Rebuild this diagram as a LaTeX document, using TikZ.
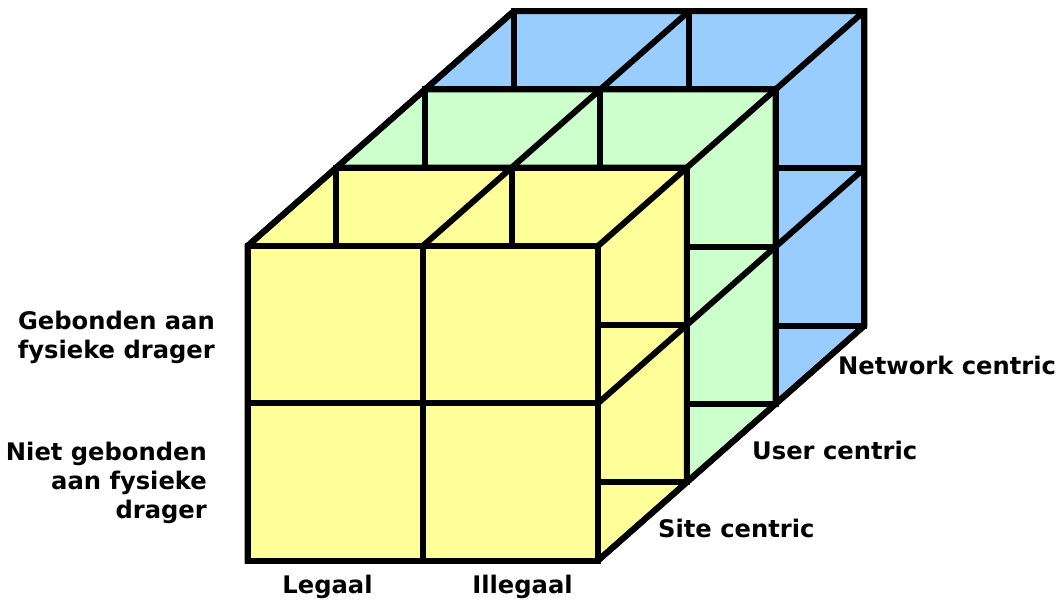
\documentclass[tikz,border=0pt]{standalone}
\usepackage{fontspec}
\setmainfont{DejaVu Sans}
\usetikzlibrary{calc}
\definecolor{yellowf}{HTML}{FFFF99}
\definecolor{greenf}{HTML}{CCFFCC}
\definecolor{bluef}{HTML}{99CCFF}
\tikzset{
  edge/.style={draw=black, line width=6pt, line join=miter},
  lbl/.style={font=\fontsize{24.2}{29}\selectfont\bfseries, inner sep=0pt}
}
\begin{document}
\begin{tikzpicture}[x=1pt,y=-1pt]
\useasboundingbox (0,0) rectangle (1061,601);
\def\dx{88.8}
\def\dy{-78.3}
\foreach \k/\col in {2/bluef,1/greenf,0/yellowf}{
  \begin{scope}[shift={({\k*\dx},{\k*\dy})}]
    \coordinate (a) at (247.5,246);
    \coordinate (b) at (598,246);
    \coordinate (c) at (598,560.5);
    \coordinate (e) at (247.5,560.5);
    \coordinate (tm) at (422.75,246);
    \coordinate (bm) at (422.75,560.5);
    \coordinate (lm) at (247.5,403.25);
    \coordinate (rm) at (598,403.25);
    % silhouette
    \path[edge, fill=\col] (a) -- ++(\dx,\dy) -- ($(b)+(\dx,\dy)$) -- ($(c)+(\dx,\dy)$) -- (c) -- (e) -- cycle;
    % back grid
    \draw[edge] ($(a)+(\dx,\dy)$) rectangle ($(c)+(\dx,\dy)$);
    \draw[edge] ($(tm)+(\dx,\dy)$) -- ($(bm)+(\dx,\dy)$);
    \draw[edge] ($(lm)+(\dx,\dy)$) -- ($(rm)+(\dx,\dy)$);
    % depth edges
    \draw[edge] (a) -- ++(\dx,\dy);
    \draw[edge] (tm) -- ++(\dx,\dy);
    \draw[edge] (b) -- ++(\dx,\dy);
    \draw[edge] (rm) -- ++(\dx,\dy);
    \draw[edge] (c) -- ++(\dx,\dy);
    % front grid
    \path[edge, fill=\col] (a) rectangle (c);
    \draw[edge] (tm) -- (bm);
    \draw[edge] (lm) -- (rm);
  \end{scope}
}
\node[lbl, align=right, anchor=base east] (geb) at (215,359) {Gebonden aan\\fysieke drager};
\node[lbl, align=right, anchor=base east] (niet) at (207,518.5) {Niet gebonden\\aan fysieke\\drager};
\node[lbl, anchor=base] (leg) at (327.5,593) {Legaal};
\node[lbl, anchor=base] (ill) at (522.5,593) {Illegaal};
\node[lbl, anchor=base west] (site) at (658,538) {Site centric};
\node[lbl, anchor=base west] (user) at (752,460) {User centric};
\node[lbl, anchor=base west] (net) at (838,375) {Network centric};
\end{tikzpicture}
\end{document}
